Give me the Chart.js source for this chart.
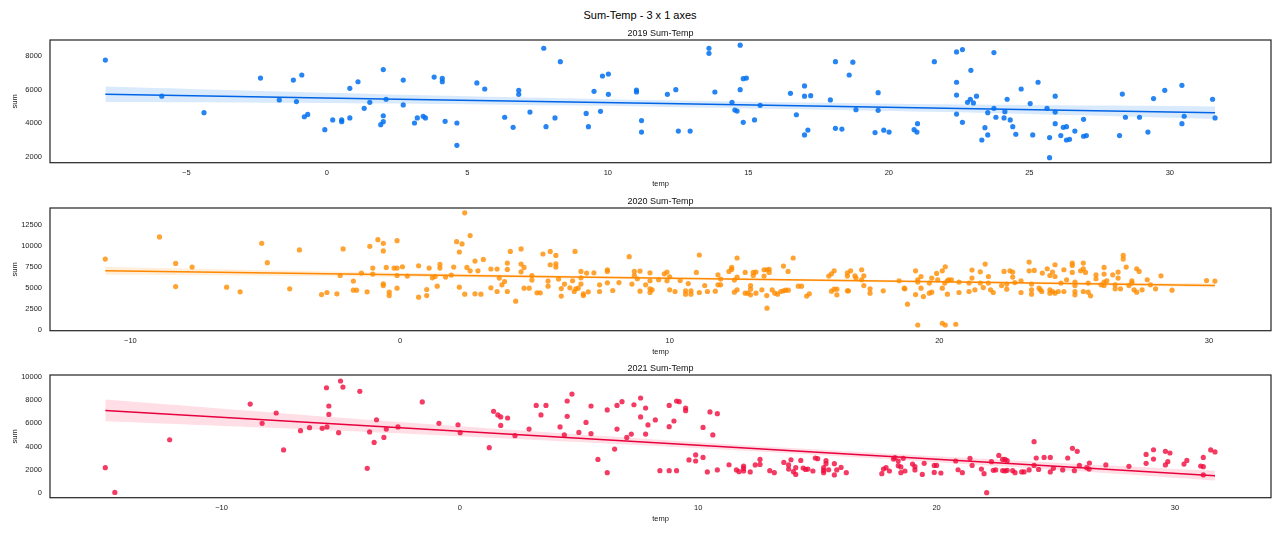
<!DOCTYPE html>
<html>
<head>
<meta charset="utf-8">
<title>Sum-Temp - 3 x 1 axes</title>
<script src="https://cdn.jsdelivr.net/npm/chart.js@4.4.0/dist/chart.umd.min.js"></script>
<style>
  body { margin: 0; background: #fff; width: 1280px; height: 533px; position: relative; overflow: hidden;
         font-family: "Liberation Sans", Arial, sans-serif; }
  #mainTitle { position: absolute; top: 9px; left: 0; width: 1280px; text-align: center;
               font-size: 11px; line-height: 13px; color: #000; }
  .panel { position: absolute; left: 0; width: 1280px; height: 173px; }
</style>
</head>
<body>
<div id="mainTitle">Sum-Temp - 3 x 1 axes</div>
<div class="panel" style="top:26px"><canvas id="c2019" width="1280" height="173"></canvas></div>
<div class="panel" style="top:194px"><canvas id="c2020" width="1280" height="173"></canvas></div>
<div class="panel" style="top:361px"><canvas id="c2021" width="1280" height="173"></canvas></div>
<script>
// ---- 2019 ----
const temp2019 = [-7.88,-5.87,-4.37,-2.36,-1.69,-1.19,-1.08,-0.89,-0.80,-0.68,
  -0.07,0.21,0.53,0.53,0.82,0.82,1.11,1.33,1.53,1.92,
  2.01,2.01,2.01,2.11,2.72,2.72,3.12,3.22,3.43,3.51,
  3.82,4.11,4.11,4.21,4.63,4.63,5.34,5.62,6.33,6.63,
  6.83,6.83,7.23,7.72,7.80,8.12,8.31,9.23,9.31,9.51,
  9.74,9.81,10.02,10.02,11.02,11.02,11.2,11.2,12.12,12.42,
  12.51,12.93,13.6,13.6,13.81,14.42,14.52,14.6,14.71,14.71,
  14.82,14.93,14.82,15.22,15.42,16.5,16.71,17.0,17.0,17.0,
  17.12,17.22,17.92,18.1,18.1,18.33,18.59,18.72,18.83,19.51,
  19.62,19.62,19.82,20.01,20.9,21.0,21.02,21.62,22.41,22.62,
  22.41,22.41,22.41,22.62,22.8,22.9,22.92,23.01,23.12,23.31,
  23.42,23.52,23.52,23.74,23.74,23.81,24.13,24.1,24.21,24.32,
  24.41,24.52,24.71,25.03,25.12,25.31,25.63,25.72,25.72,25.92,
  25.92,25.92,26.12,26.21,26.32,26.32,26.43,26.62,26.93,26.93,
  27.03,28.21,28.31,28.42,28.92,29.22,29.42,29.82,30.43,30.43,
  30.51,31.52,31.61];
const sum2019 = [7760,5610,4630,6690,5390,6570,5290,6870,4390,4530,
  3620,4200,4200,4100,6080,4320,6470,4890,5250,3920,
  7190,4450,4100,5430,6570,5090,4020,4320,4420,4320,
  6750,6670,6470,4120,4020,2690,6400,6040,4360,3760,
  5960,5720,4670,8460,3800,4320,7660,4590,3800,5900,
  4710,6810,6930,5720,5980,5860,4160,3480,5720,6000,
  3540,3540,8460,8160,5860,5250,4790,4730,8640,6000,
  6650,6690,4060,4200,5070,5780,4510,6220,5610,3310,
  3600,5640,5390,7660,3700,3660,6870,7630,4810,3450,
  5820,4770,3590,3480,3620,3480,3980,7660,8240,8380,
  6440,5680,4550,4060,5250,5430,7150,5210,5610,3010,
  3740,4630,3310,8200,4890,4360,4690,4320,5430,4200,
  3800,3350,6040,5170,3310,6440,4890,3150,1960,5610,
  4670,3980,3270,3760,3800,3010,3050,3540,4240,3230,
  3270,3270,5740,4360,4360,3480,5470,5960,6260,3980,
  4420,5430,4320];
const fitTemp2019 = [-7.88, 2, 12, 22, 31.61];
const fitSum2019 = [5724, 5450, 5174, 4897, 4631];
const bandLow2019 = [5264, 5170, 4974, 4667, 4256];
const bandHigh2019 = [6184, 5730, 5374, 5127, 5006];
const xLim2019 = [-9.85, 33.6];
const yLim2019 = [1660, 8950];
const xTicks2019 = [-5, 0, 5, 10, 15, 20, 25, 30];
const yTicks2019 = [2000, 4000, 6000, 8000];

// ---- 2020 ----
const temp2020 = [-10.93,-8.92,-8.32,-8.32,-7.71,-6.43,-5.93,-5.13,-4.92,-4.09,
  -3.73,-2.91,-2.71,-2.34,-2.22,-2.11,-1.73,-1.73,-1.61,-1.43,
  -1.22,-1.12,-1.01,-1.01,-0.82,-0.62,-0.62,-0.62,-0.62,-0.51,
  -0.40,-0.40,-0.22,-0.11,-0.11,-0.11,-0.11,0.09,0.27,0.69,
  0.69,0.99,0.99,1.08,1.20,1.30,1.38,1.48,1.48,1.69,
  1.90,1.99,2.10,2.20,2.20,2.30,2.40,2.40,2.48,2.60,
  2.60,2.78,2.78,2.89,3.00,3.09,3.37,3.37,3.60,3.60,
  3.68,3.78,3.88,3.98,3.98,3.98,4.09,4.29,4.49,4.49,
  4.49,4.60,4.60,4.79,4.89,4.89,5.08,5.20,5.30,5.49,
  5.49,5.57,5.57,5.78,5.78,5.78,5.88,5.98,5.98,6.10,
  6.30,6.40,6.46,6.49,6.52,6.61,6.71,6.71,6.71,6.80,
  6.80,6.92,6.98,7.19,7.40,7.40,7.69,7.69,7.69,7.89,
  8.12,8.50,8.60,8.69,8.69,8.80,8.90,8.90,9.11,9.27,
  9.27,9.27,9.27,9.35,9.59,9.80,9.90,9.90,10.0,10.0,
  10.20,10.39,10.59,10.59,10.69,10.79,10.79,10.99,11.10,11.10,
  11.30,11.40,11.69,11.79,11.79,11.89,11.89,12.2,12.3,12.3,
  12.40,12.40,12.50,12.50,12.50,12.80,12.80,12.90,13.00,13.00,
  13.00,13.10,13.10,13.20,13.20,13.42,13.5,13.5,13.6,13.6,
  13.61,13.69,13.69,13.8,13.9,14.0,14.12,14.22,14.22,14.39,
  14.3,14.4,14.58,14.77,14.89,15.08,15.18,15.9,16.0,16.1,
  16.0,16.1,16.2,16.2,16.59,16.59,16.59,16.71,16.63,16.87,
  16.91,17.12,17.2,17.12,17.2,17.43,17.43,17.92,18.51,18.70,
  18.72,18.82,19.12,19.12,19.20,19.2,19.2,19.32,19.32,19.41,
  19.63,19.72,19.63,19.72,19.90,19.94,20.11,20.11,20.11,20.22,
  20.22,20.2,20.3,20.35,20.45,20.3,20.61,20.73,20.73,21.1,
  21.1,21.21,21.21,21.32,21.52,21.52,21.63,21.70,21.82,21.82,
  21.9,22.0,22.31,22.4,22.62,22.72,22.5,22.5,22.72,22.8,
  23.03,23.03,23.33,23.33,23.42,23.42,23.42,23.52,23.7,23.75,
  23.8,23.82,24.0,24.1,24.1,24.1,24.2,24.2,24.29,24.29,
  24.29,24.41,24.51,24.62,24.62,24.72,24.93,24.93,24.93,25.03,
  25.03,25.03,25.03,25.24,25.34,25.34,25.42,25.34,25.52,25.52,
  25.61,25.81,25.81,26.0,26.11,26.11,26.11,26.11,26.21,26.43,
  26.52,26.52,26.63,26.63,26.72,26.82,26.82,26.93,27.03,27.14,
  27.14,27.22,27.32,27.32,27.41,27.52,27.71,27.83,28.02,28.22,
  28.63,29.91,30.22];
const sum2020 = [8420,11050,7900,5140,7460,5070,4510,10290,7980,4870,
  9500,4190,4430,4270,6460,9620,5790,4710,4710,6750,
  4510,9930,7340,6630,10730,10290,9380,5470,5260,7420,
  4470,4070,7340,10610,7340,6460,4950,7500,6390,7620,
  3880,4790,4070,7340,6180,6340,5190,7780,7340,6270,
  6510,7460,10490,5070,9260,10220,13920,4230,7420,11210,
  7020,8180,4270,7020,4230,8370,7230,4990,7230,4550,
  6150,5350,5740,7940,7180,4550,9330,3400,9620,7820,
  6900,7420,4950,4950,6460,5910,4390,4390,9020,5790,
  5190,9330,7740,8850,7860,7460,6030,4900,4000,5430,
  4990,5830,4550,9330,4870,4950,6940,6180,5430,4270,
  4070,6750,4510,6780,5350,4550,7140,6940,5590,4670,
  5620,8700,5430,6940,6460,6070,6990,4590,5350,6780,
  5830,4870,4430,4750,5950,6660,6870,5830,6300,4750,
  4550,5860,4630,4230,5500,4630,4230,6820,8900,4430,
  5260,4550,4590,6540,5350,6030,5350,6940,7420,7180,
  5910,4470,8540,6270,4750,6820,4350,4350,5260,4830,
  4150,6820,6460,6870,4350,4750,7140,6390,7140,4070,
  2560,6820,7200,4750,4350,4230,4550,4630,7580,6940,
  4710,4710,8540,5190,5190,4000,4270,6390,6660,7020,
  4590,4830,4830,4150,6780,6390,4630,7020,4630,6420,
  6150,7140,6420,5950,5260,4870,4350,4630,5830,4950,
  4870,3040,7020,4190,560,5950,5670,6340,4950,3950,
  4350,4470,5550,6150,6700,5950,7020,770,4950,7500,
  560,5550,5830,5950,5950,4230,650,5670,4430,5550,
  4550,7110,6150,4750,6900,5550,5020,7820,6340,5550,
  4750,4430,5260,6940,7020,6870,5430,4830,6270,5620,
  5830,4430,8060,7020,5430,4750,4230,7060,4950,4750,
  4550,6750,7260,6460,4750,4350,6870,4550,7740,6340,
  4350,4550,5550,7140,4550,5950,7940,7660,6820,5670,
  5260,4550,4150,7020,7940,7260,6820,4550,5550,4470,
  4030,6540,6070,5350,7420,6630,5670,5260,5830,6540,
  5350,4870,6870,6150,4870,8850,8420,7460,5260,5830,
  5550,4750,4470,7260,6940,4750,5950,5350,4870,6420,
  4710,5860,5790];
const fitTemp2020 = [-10.93, 0, 10, 20, 30.22];
const fitSum2020 = [7021, 6554, 6127, 5700, 5263];
const bandLow2020 = [6561, 6314, 5977, 5550, 5033];
const bandHigh2020 = [7481, 6794, 6277, 5850, 5493];
const xLim2020 = [-12.98, 32.3];
const yLim2020 = [-120, 14500];
const xTicks2020 = [-10, 0, 10, 20, 30];
const yTicks2020 = [0, 2500, 5000, 7500, 10000, 12500];

// ---- 2021 ----
const temp2021 = [-14.88,-14.48,-12.18,-8.80,-8.30,-7.71,-7.40,-6.69,-6.31,-5.78,
  -5.60,-5.58,-5.50,-5.50,-5.09,-5.01,-4.91,-4.20,-3.89,-3.79,
  -3.60,-3.50,-3.19,-3.09,-2.60,-1.58,-0.88,-0.08,0.01,1.23,
  1.41,1.59,1.71,1.71,2.00,2.31,2.90,3.20,3.40,3.61,
  4.20,4.38,4.50,4.50,4.70,4.99,5.29,5.50,5.50,5.79,
  6.18,6.18,6.49,6.59,6.59,6.80,7.00,7.19,7.30,7.58,
  7.58,7.79,7.79,7.89,8.20,8.39,8.78,8.78,8.78,8.98,
  9.09,9.09,9.20,9.47,9.47,9.61,9.89,9.89,10.20,10.20,
  10.38,10.49,10.61,10.80,10.80,11.29,11.6,11.71,11.9,11.9,
  11.9,12.18,12.39,12.59,12.59,13.0,13.19,13.59,13.79,13.79,
  13.89,13.99,14.09,14.09,14.30,14.4,14.5,14.6,14.81,14.91,
  15.01,15.26,15.26,15.26,15.36,15.36,15.47,15.71,15.71,15.81,
  15.99,16.21,17.70,17.77,17.88,18.02,18.19,18.25,18.39,18.39,
  18.5,18.5,18.67,18.60,18.99,19.09,19.09,19.40,19.48,19.9,
  20.0,19.9,20.18,20.8,20.90,21.08,21.40,21.49,21.88,21.99,
  22.1,22.30,22.38,22.48,22.61,22.77,22.87,22.96,22.77,22.87,
  22.96,23.19,23.29,23.57,23.67,23.88,24.09,24.09,24.18,24.28,
  24.51,24.77,24.77,24.90,25.29,25.50,25.70,25.78,25.90,25.99,
  26.3,26.4,26.41,27.10,28.07,28.79,28.79,29.10,29.10,29.60,
  29.60,29.7,29.79,30.38,30.5,31.08,31.19,31.19,31.19,31.5,
  31.68];
const sum2021 = [2180,50,4580,7650,5990,6880,3700,5360,5620,5560,
  9050,5680,7480,6760,5190,9630,9110,8740,2120,5250,
  4350,6300,4780,5500,5680,7830,5990,5870,5190,3900,
  7020,6710,6540,5810,6450,4930,5500,7530,6710,7530,
  5680,4990,7910,6590,8510,5210,6070,7480,5100,2890,
  7140,1750,3780,7530,5500,7850,4780,5070,7590,8170,
  6540,7310,5070,5850,6280,1920,7530,5700,1920,6190,
  7910,1920,7850,7310,7080,2840,3270,2750,5640,3060,
  1810,6970,4990,6820,1980,2430,1980,1830,2320,2120,
  1890,1810,2410,2890,2460,1920,1750,2630,2410,2060,
  2860,1830,2180,1600,2800,2150,2030,2060,1890,3010,
  2950,2180,1950,1750,2780,2520,2000,2520,1550,1980,
  2200,1750,1660,2060,2180,1890,2920,3040,2750,2350,
  2240,1750,1890,2980,2490,2260,1980,1600,2550,2370,
  2370,1770,1720,2750,2000,1750,2980,2370,2060,1660,
  30,2690,1950,1980,3230,2890,2890,2780,1930,1900,
  1950,1920,1750,1810,1810,1980,4410,2370,3010,2030,
  3060,3060,1810,2120,1980,3010,3840,1920,3580,2370,
  2180,2060,2580,2410,2290,3320,2550,3720,2920,3580,
  2410,2690,3440,2490,2800,2320,2260,3060,1550,3700,
  3530];
const fitTemp2021 = [-14.88, -5, 5, 15, 25, 31.68];
const fitSum2021 = [7103, 5912, 4708, 3503, 2298, 1488];
const bandLow2021 = [6170, 5352, 4378, 3273, 1998, 1071];
const bandHigh2021 = [8036, 6472, 5038, 3733, 2598, 1905];
const xLim2021 = [-17.2, 34.03];
const yLim2021 = [-404, 10146];
const xTicks2021 = [-10, 0, 10, 20, 30];
const yTicks2021 = [0, 2000, 4000, 6000, 8000, 10000];

const FONT = "'Liberation Sans', Arial, sans-serif";
Chart.defaults.font.family = FONT;

// matplotlib style: unicode minus, no thousands separator
function tickText(v) {
    return v < 0 ? '\u2212' + Math.abs(v) : String(v);
}

// black box round the plot area, like the matplotlib spines
const frame = {
    id: 'frame',
    afterDraw(chart) {
        const { ctx, chartArea: a } = chart;
        ctx.save();
        ctx.strokeStyle = '#222';
        ctx.lineWidth = 1.2;
        ctx.strokeRect(a.left, a.top, a.right - a.left, a.bottom - a.top);
        ctx.restore();
    }
};

function toPoints(xs, ys) {
    return xs.map((x, i) => ({ x: x, y: ys[i] }));
}

function makePanel(canvasId, title, temps, sums, fitT, fitS, lo, hi, xLim, yLim, xTicks, yTicks, colors) {
    const ctx = document.getElementById(canvasId).getContext('2d');
    return new Chart(ctx, {
        type: 'scatter',
        data: {
            datasets: [{
                type: 'scatter',
                data: toPoints(temps, sums),
                backgroundColor: colors.dot,
                pointRadius: 2.6,
                pointBorderWidth: 0,
                order: 0
            }, {
                type: 'line',
                data: toPoints(fitT, fitS),
                borderColor: colors.line,
                borderWidth: 1.5,
                pointRadius: 0,
                fill: false,
                order: 1
            }, {
                type: 'line',
                data: toPoints(fitT, lo),
                borderWidth: 0,
                borderColor: 'rgba(0,0,0,0)',
                pointRadius: 0,
                tension: 0.3,
                fill: false,
                order: 3
            }, {
                type: 'line',
                data: toPoints(fitT, hi),
                borderWidth: 0,
                borderColor: 'rgba(0,0,0,0)',
                backgroundColor: colors.band,
                pointRadius: 0,
                tension: 0.3,
                fill: '-1',
                order: 2
            }]
        },
        options: {
            responsive: false,
            animation: false,
            layout: { padding: { left: 0, right: 9, top: 0, bottom: 0 } },
            plugins: {
                legend: { display: false },
                tooltip: { enabled: false },
                title: {
                    display: true,
                    text: title,
                    fullSize: false,
                    color: '#111',
                    font: { size: 9, weight: 'normal' },
                    padding: { top: 2, bottom: 1.2 }
                }
            },
            scales: {
                x: {
                    type: 'linear',
                    min: xLim[0],
                    max: xLim[1],
                    grid: { display: false, drawTicks: false },
                    border: { display: false },
                    afterBuildTicks: s => { s.ticks = xTicks.map(v => ({ value: v })); },
                    afterFit: s => { s.height = 36.3; },
                    ticks: { color: '#222', font: { size: 7.5 }, padding: 6, maxRotation: 0, callback: tickText },
                    title: { display: true, text: 'temp', color: '#222', font: { size: 7.5 }, padding: { top: 0, bottom: 10.5 } }
                },
                y: {
                    min: yLim[0],
                    max: yLim[1],
                    grid: { display: false, drawTicks: false },
                    border: { display: false },
                    afterBuildTicks: s => { s.ticks = yTicks.map(v => ({ value: v })); },
                    afterFit: s => { s.width = 50; },
                    ticks: { color: '#222', font: { size: 7.5 }, padding: 8, callback: tickText },
                    title: { display: true, text: 'sum', color: '#222', font: { size: 7.5 }, padding: { top: 10, bottom: 0 } }
                }
            }
        },
        plugins: [frame]
    });
}

makePanel('c2019', '2019 Sum-Temp', temp2019, sum2019, fitTemp2019, fitSum2019, bandLow2019, bandHigh2019,
    xLim2019, yLim2019, xTicks2019, yTicks2019,
    { dot: 'rgba(0,112,240,0.85)', line: '#0064e6', band: 'rgba(0,112,240,0.15)' });
makePanel('c2020', '2020 Sum-Temp', temp2020, sum2020, fitTemp2020, fitSum2020, bandLow2020, bandHigh2020,
    xLim2020, yLim2020, xTicks2020, yTicks2020,
    { dot: 'rgba(255,140,0,0.8)', line: '#ff8800', band: 'rgba(255,140,0,0.15)' });
makePanel('c2021', '2021 Sum-Temp', temp2021, sum2021, fitTemp2021, fitSum2021, bandLow2021, bandHigh2021,
    xLim2021, yLim2021, xTicks2021, yTicks2021,
    { dot: 'rgba(240,10,60,0.8)', line: '#e8003c', band: 'rgba(255,0,64,0.13)' });
</script>
</body>
</html>
